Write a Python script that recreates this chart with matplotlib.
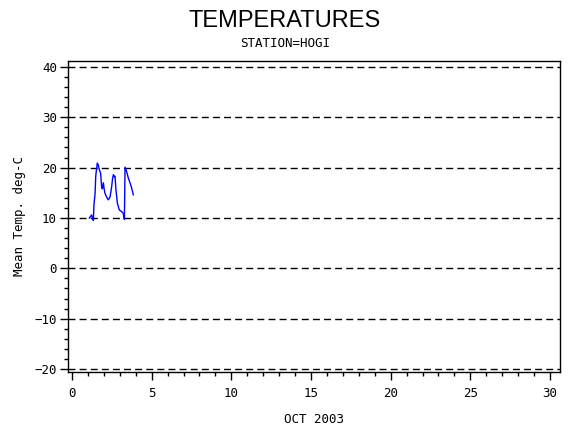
import matplotlib
matplotlib.use("Agg")
import matplotlib.pyplot as plt

# day of month (fractional) and mean temperature
days = [1.09, 1.23, 1.28, 1.34, 1.38, 1.45, 1.49, 1.55, 1.59, 1.65, 1.70, 1.76,
        1.80, 1.86, 1.90, 1.97, 2.01, 2.07, 2.18, 2.28, 2.39, 2.49, 2.55, 2.60,
        2.66, 2.70, 2.76, 2.85, 2.97, 3.10, 3.22, 3.29, 3.33, 3.43, 3.53, 3.64,
        3.74, 3.85]
temps = [10.0, 10.6, 10.0, 9.5, 12.6, 14.9, 18.3, 19.9, 20.9, 20.5, 19.8, 19.2,
         18.8, 16.2, 15.8, 17.0, 15.9, 14.9, 14.1, 13.6, 14.2, 16.2, 17.9, 18.6,
         18.2, 18.3, 15.6, 12.9, 11.6, 11.3, 10.9, 9.7, 20.1, 19.2, 18.0, 17.0,
         16.0, 14.6]

x_ticks = [0, 5, 10, 15, 20, 25, 30]
y_ticks = [-20, -10, 0, 10, 20, 30, 40]

fig = plt.figure(figsize=(5.7, 4.3), dpi=100)
ax = fig.add_axes([0.1193, 0.1349, 0.8632, 0.7233])

for y in y_ticks:
    ax.axhline(y, color="black", linestyle=(0, (5, 3)), linewidth=1)

ax.plot(days, temps, color="blue", linewidth=1)

ax.set_xlim(-0.25, 30.63)
ax.set_ylim(-20.6, 41.19)
ax.set_xticks(x_ticks)
ax.set_yticks(y_ticks)
ax.set_xticks(range(0, 31), minor=True)
ax.set_yticks(range(-20, 41, 2), minor=True)
ax.tick_params(which="major", direction="out", length=6, width=1, labelsize=9)
ax.tick_params(which="minor", direction="out", length=3, width=1)
for s in ax.spines.values():
    s.set_linewidth(1)

tickfont = "DejaVu Sans Mono"
for lab in ax.get_xticklabels() + ax.get_yticklabels():
    lab.set_family(tickfont)
ax.tick_params(axis="x", pad=5)
ax.tick_params(axis="y", pad=2)

ax.set_xlabel("OCT 2003", family=tickfont, fontsize=9, labelpad=9)
ax.set_ylabel("Mean Temp. deg-C", family=tickfont, fontsize=9, labelpad=6)

fig.text(0.5, 0.952, "TEMPERATURES", ha="center", va="center",
         family="Liberation Sans", fontsize=17)
fig.text(0.5, 0.898, "STATION=HOGI", ha="center", va="center",
         family=tickfont, fontsize=9)

fig.savefig("out.png", dpi=100)
